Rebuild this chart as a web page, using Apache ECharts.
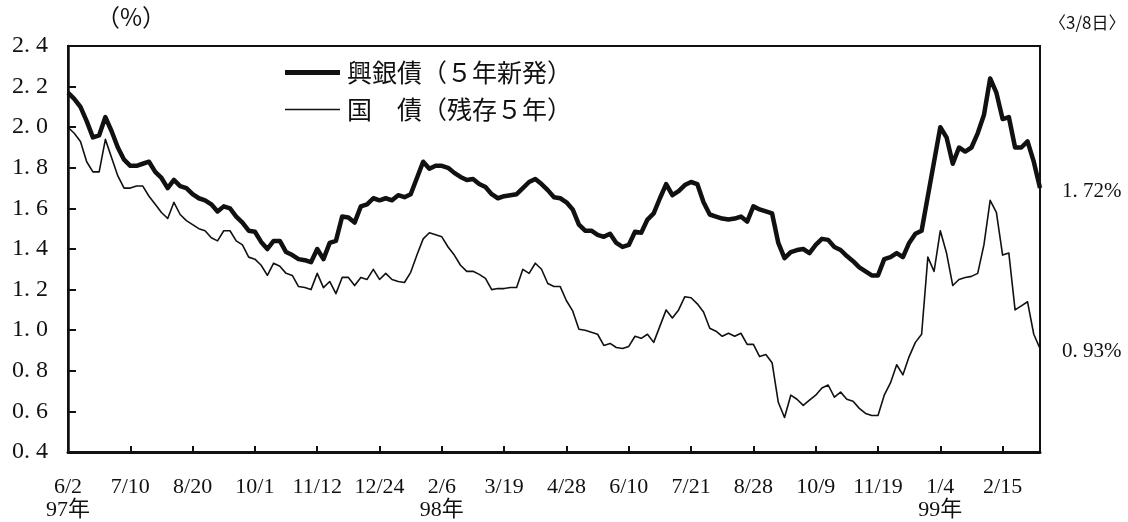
<!DOCTYPE html>
<html lang="ja">
<head>
<meta charset="UTF-8">
<title>興銀債と国債の利回り</title>
<script src="https://cdn.jsdelivr.net/npm/echarts@6/dist/echarts.min.js"></script>
<style>
  html, body { margin: 0; padding: 0; background: #fff; }
  #chart { width: 1128px; height: 522px; }
</style>
</head>
<body>
<div id="chart"></div>
<script>
// 目盛りラベル（30営業日ごと = データ10点ごと）
var tickLabels = ['6/2', '7/10', '8/20', '10/1', '11/12', '12/24', '2/6', '3/19',
                  '4/28', '6/10', '7/21', '8/28', '10/9', '11/19', '1/4', '2/15'];
var yearLabels = { 0: '97年', 60: '98年', 140: '99年' };

// 興銀債（5年新発）  3営業日ごと
var kkb = [
  2.17, 2.14, 2.10, 2.03, 1.95, 1.96, 2.05, 1.98, 1.90, 1.84,
  1.81, 1.81, 1.82, 1.83, 1.78, 1.75, 1.70, 1.74, 1.71, 1.70,
  1.67, 1.65, 1.64, 1.62, 1.585, 1.61, 1.60, 1.56, 1.53, 1.49,
  1.485, 1.435, 1.40, 1.44, 1.44, 1.385, 1.37, 1.35, 1.345, 1.335,
  1.40, 1.35, 1.43, 1.44, 1.56, 1.555, 1.53, 1.61, 1.62, 1.65,
  1.64, 1.65, 1.64, 1.665, 1.655, 1.67, 1.75, 1.83, 1.795, 1.81,
  1.81, 1.80, 1.775, 1.755, 1.74, 1.745, 1.72, 1.705, 1.67, 1.65,
  1.66, 1.665, 1.67, 1.70, 1.73, 1.745, 1.72, 1.69, 1.655, 1.65,
  1.63, 1.595, 1.52, 1.49, 1.49, 1.47, 1.46, 1.475, 1.43, 1.41,
  1.42, 1.485, 1.48, 1.545, 1.575, 1.65, 1.72, 1.665, 1.685, 1.715,
  1.73, 1.72, 1.63, 1.57, 1.56, 1.55, 1.545, 1.55, 1.56, 1.535,
  1.61, 1.595, 1.585, 1.575, 1.43, 1.355, 1.385, 1.395, 1.40, 1.38,
  1.42, 1.45, 1.445, 1.41, 1.395, 1.365, 1.34, 1.31, 1.29, 1.27,
  1.27, 1.35, 1.36, 1.38, 1.36, 1.43, 1.475, 1.49, 1.66, 1.83,
  2.00, 1.95, 1.82, 1.90, 1.88, 1.90, 1.97, 2.06, 2.24, 2.17,
  2.04, 2.05, 1.90, 1.90, 1.93, 1.83, 1.70
];

// 国債（残存5年）
var jgb = [
  2.00, 1.97, 1.93, 1.83, 1.78, 1.78, 1.94, 1.85, 1.76, 1.70,
  1.70, 1.71, 1.71, 1.66, 1.62, 1.58, 1.55, 1.63, 1.57, 1.54,
  1.52, 1.50, 1.49, 1.455, 1.44, 1.49, 1.49, 1.44, 1.42, 1.36,
  1.35, 1.32, 1.27, 1.33, 1.315, 1.28, 1.27, 1.215, 1.21, 1.20,
  1.28, 1.21, 1.24, 1.18, 1.26, 1.26, 1.22, 1.26, 1.25, 1.30,
  1.25, 1.28, 1.25, 1.24, 1.235, 1.285, 1.37, 1.45, 1.48, 1.47,
  1.46, 1.41, 1.37, 1.32, 1.29, 1.29, 1.275, 1.255, 1.20, 1.205,
  1.205, 1.21, 1.21, 1.30, 1.28, 1.33, 1.30, 1.23, 1.215, 1.215,
  1.145, 1.095, 1.005, 1.00, 0.99, 0.98, 0.925, 0.935, 0.915, 0.91,
  0.92, 0.97, 0.96, 0.98, 0.94, 1.02, 1.10, 1.06, 1.10, 1.165,
  1.16, 1.13, 1.09, 1.01, 0.995, 0.97, 0.985, 0.97, 0.985, 0.93,
  0.93, 0.87, 0.88, 0.84, 0.645, 0.57, 0.68, 0.66, 0.63, 0.655,
  0.68, 0.715, 0.73, 0.67, 0.695, 0.66, 0.65, 0.615, 0.59, 0.58,
  0.58, 0.68, 0.74, 0.83, 0.78, 0.87, 0.94, 0.98, 1.36, 1.29,
  1.49, 1.38, 1.22, 1.25, 1.26, 1.265, 1.28, 1.42, 1.64, 1.58,
  1.37, 1.38, 1.10, 1.12, 1.14, 0.98, 0.91
];

var seriesNames = ['興銀債（５年新発）', '国　債（残存５年）'];
var endLabels = ['1. 72%', '0. 93%'];

var serif = "'Liberation Serif', 'Noto Sans CJK JP', serif";
var cjk = "'Noto Sans CJK JP', sans-serif";

// カテゴリ（目盛り位置だけ日付、それ以外は通し番号）
var categories = kkb.map(function (v, i) {
    return i % 10 === 0 ? tickLabels[i / 10] : String(i);
});

// 凡例は線の太さを変えるため2つに分ける
function makeLegend(name, top, thick) {
    return {
        orient: 'vertical',
        left: 280,
        top: top,
        icon: 'rect',
        itemWidth: 55,
        itemHeight: thick,
        data: [name],
        itemStyle: { color: '#111' },
        textStyle: { fontFamily: cjk, fontSize: 25, color: '#111', padding: [0, 0, 0, 2] }
    };
}

var myChart = echarts.init(document.getElementById('chart'));
var option = {
    animation: false,
    backgroundColor: '#fff',
    grid: {
        show: true,
        left: 68,
        top: 46,
        width: 972,
        height: 409,
        borderColor: '#111',
        borderWidth: 2
    },
    legend: [
        makeLegend(seriesNames[0], 55, 5),
        makeLegend(seriesNames[1], 92, 1.6)
    ],
    xAxis: {
        type: 'category',
        boundaryGap: false,
        data: categories,
        axisLine: { lineStyle: { color: '#111', width: 3 } },
        axisTick: { inside: true, length: 6, interval: 9, lineStyle: { color: '#111', width: 2 } },
        axisLabel: {
            interval: 9,
            margin: 24,
            color: '#111',
            fontFamily: serif,
            fontSize: 22,
            lineHeight: 23,
            formatter: function (value, index) {
                return yearLabels[index] ? value + '\n' + yearLabels[index] : value;
            }
        },
        splitLine: { show: false }
    },
    yAxis: {
        type: 'value',
        min: 0.4,
        max: 2.4,
        interval: 0.2,
        axisLine: { show: true, lineStyle: { color: '#111', width: 2.5 } },
        axisTick: { show: true, inside: true, length: 8, lineStyle: { color: '#111', width: 2 } },
        axisLabel: {
            margin: 20,
            color: '#111',
            fontFamily: serif,
            fontSize: 24,
            formatter: function (v) { return v.toFixed(1).replace('.', '. '); }
        },
        splitLine: { show: false }
    },
    graphic: [
        { type: 'text', left: 96, top: 5, style: { text: '（%）', font: '24px ' + cjk, fill: '#111' } },
        { type: 'text', left: 1049, top: 14, style: { text: '〈3/8日〉', font: '17px ' + cjk, fill: '#111' } },
        { type: 'text', left: 1062, top: 181, style: { text: endLabels[0], font: '21px ' + serif, fill: '#111' } },
        { type: 'text', left: 1062, top: 341, style: { text: endLabels[1], font: '21px ' + serif, fill: '#111' } }
    ],
    series: [
        {
            name: seriesNames[0],
            type: 'line',
            symbol: 'none',
            data: kkb,
            color: '#111',
            lineStyle: { color: '#111', width: 4.5, join: 'round' }
        },
        {
            name: seriesNames[1],
            type: 'line',
            symbol: 'none',
            data: jgb,
            color: '#111',
            lineStyle: { color: '#111', width: 1.6, join: 'round' }
        }
    ]
};
myChart.setOption(option);
</script>
</body>
</html>
